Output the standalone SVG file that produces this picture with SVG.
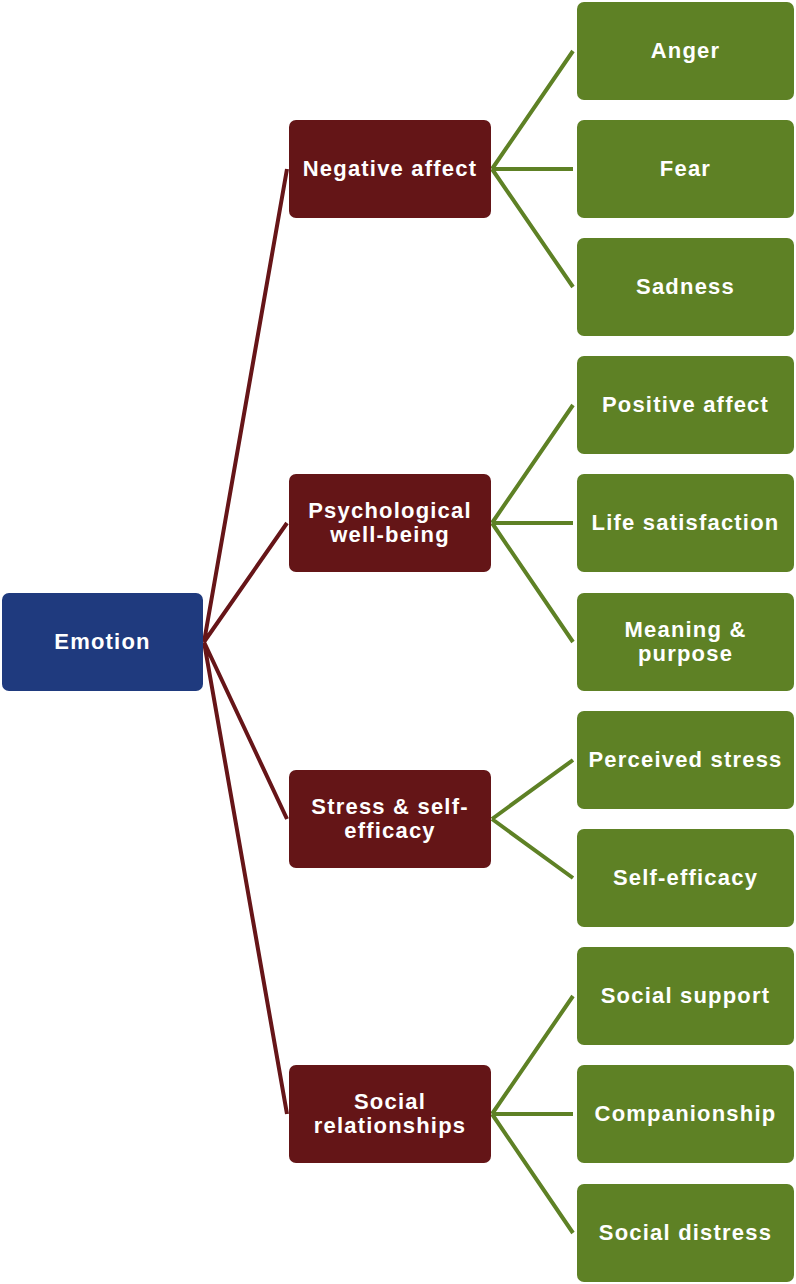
<svg xmlns="http://www.w3.org/2000/svg" width="796" height="1284" viewBox="0 0 796 1284">
<style>
.t{font-family:"Liberation Sans",Arial,sans-serif;font-weight:bold;font-size:22px;fill:#ffffff;text-anchor:middle;letter-spacing:1.2px}
.b{fill:#1f3a7e}
.r{fill:#641517}
.g{fill:#5e8125}
.lr{stroke:#661518;stroke-width:4;fill:none}
.lg{stroke:#5e8125;stroke-width:4;fill:none}
</style>
<rect width="796" height="1284" fill="#ffffff"/>
<g id="connectors">
<path class="lr" d="M204,642 L287,169 M204,642 L287,523 M204,642 L287,819 M204,642 L287,1114"/>
<path class="lg" d="M492,169 L573,51 M492,169 L573,169 M492,169 L573,287"/>
<path class="lg" d="M492,523 L573,405 M492,523 L573,523 M492,523 L573,642"/>
<path class="lg" d="M492,819 L573,760 M492,819 L573,878"/>
<path class="lg" d="M492,1114 L573,996 M492,1114 L573,1114 M492,1114 L573,1233"/>
</g>
<g id="emotion"><rect class="b" x="2" y="593" width="201" height="98" rx="7"/><text class="t" x="102.5" y="649">Emotion</text></g>
<g id="negative-affect"><rect class="r" x="289" y="120" width="202" height="98" rx="7"/><text class="t" x="390" y="176">Negative affect</text></g>
<g id="psychological-well-being"><rect class="r" x="289" y="474" width="202" height="98" rx="7"/><text class="t" x="390" y="518">Psychological</text><text class="t" x="390" y="542">well-being</text></g>
<g id="stress-self-efficacy"><rect class="r" x="289" y="770" width="202" height="98" rx="7"/><text class="t" x="390" y="814">Stress &amp; self-</text><text class="t" x="390" y="838">efficacy</text></g>
<g id="social-relationships"><rect class="r" x="289" y="1065" width="202" height="98" rx="7"/><text class="t" x="390" y="1109">Social</text><text class="t" x="390" y="1133">relationships</text></g>
<g id="anger"><rect class="g" x="577" y="2" width="217" height="98" rx="7"/><text class="t" x="685.5" y="58">Anger</text></g>
<g id="fear"><rect class="g" x="577" y="120" width="217" height="98" rx="7"/><text class="t" x="685.5" y="176">Fear</text></g>
<g id="sadness"><rect class="g" x="577" y="238" width="217" height="98" rx="7"/><text class="t" x="685.5" y="294">Sadness</text></g>
<g id="positive-affect"><rect class="g" x="577" y="356" width="217" height="98" rx="7"/><text class="t" x="685.5" y="412">Positive affect</text></g>
<g id="life-satisfaction"><rect class="g" x="577" y="474" width="217" height="98" rx="7"/><text class="t" x="685.5" y="530">Life satisfaction</text></g>
<g id="meaning-purpose"><rect class="g" x="577" y="593" width="217" height="98" rx="7"/><text class="t" x="685.5" y="637">Meaning &amp;</text><text class="t" x="685.5" y="661">purpose</text></g>
<g id="perceived-stress"><rect class="g" x="577" y="711" width="217" height="98" rx="7"/><text class="t" x="685.5" y="767">Perceived stress</text></g>
<g id="self-efficacy"><rect class="g" x="577" y="829" width="217" height="98" rx="7"/><text class="t" x="685.5" y="885">Self-efficacy</text></g>
<g id="social-support"><rect class="g" x="577" y="947" width="217" height="98" rx="7"/><text class="t" x="685.5" y="1003">Social support</text></g>
<g id="companionship"><rect class="g" x="577" y="1065" width="217" height="98" rx="7"/><text class="t" x="685.5" y="1121">Companionship</text></g>
<g id="social-distress"><rect class="g" x="577" y="1184" width="217" height="98" rx="7"/><text class="t" x="685.5" y="1240">Social distress</text></g>
</svg>
